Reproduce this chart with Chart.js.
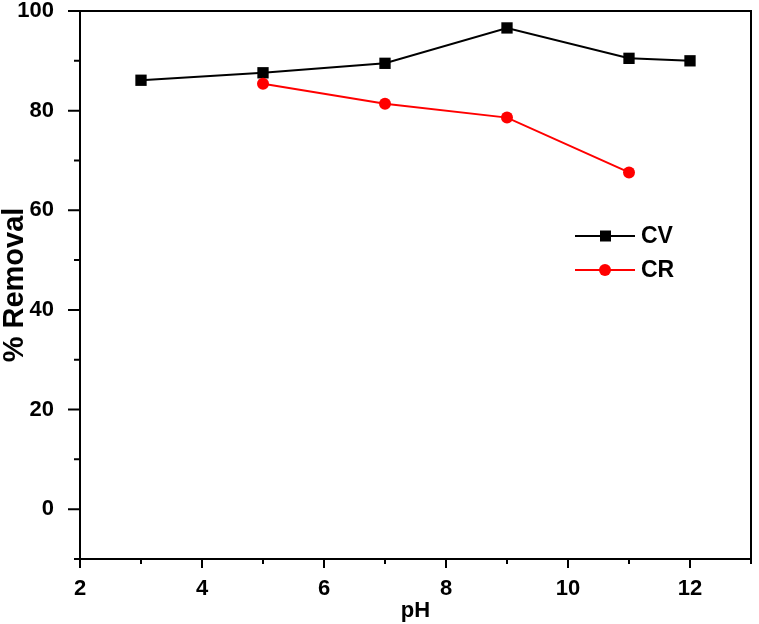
<!DOCTYPE html>
<html>
<head>
<meta charset="utf-8">
<script src="https://cdn.jsdelivr.net/npm/chart.js@4/dist/chart.umd.min.js"></script>
<style>
  html, body { margin: 0; padding: 0; background: #fff; }
  #wrap { width: 759px; height: 624px; }
</style>
</head>
<body>
<div id="wrap"><canvas id="phChart" width="759" height="624"></canvas></div>
<script>
const phCV = [3, 5, 7, 9, 11, 12];
const cvRemoval = [86.1, 87.6, 89.5, 96.6, 90.5, 90.0];
const phCR = [5, 7, 9, 11];
const crRemoval = [85.4, 81.4, 78.6, 67.6];
const xMajor = [2, 4, 6, 8, 10, 12];
const yMajor = [0, 20, 40, 60, 80, 100];

const FONT = "'Liberation Sans', Arial, sans-serif";

// frame, tick marks and the in-plot legend
const framePlugin = {
  id: 'frame',
  afterDraw(chart) {
    const ctx = chart.ctx;
    const a = chart.chartArea;
    const xs = chart.scales.x, ys = chart.scales.y;
    ctx.save();
    ctx.strokeStyle = '#000';
    ctx.lineWidth = 2;
    ctx.strokeRect(a.left, a.top, a.right - a.left, a.bottom - a.top);
    ctx.beginPath();
    for (let v = xs.min; v <= xs.max; v++) {
      const px = xs.getPixelForValue(v);
      const len = xMajor.includes(v) ? 9 : 5;
      ctx.moveTo(px, a.bottom);
      ctx.lineTo(px, a.bottom + len);
    }
    for (let v = ys.min; v <= ys.max; v += 10) {
      const py = ys.getPixelForValue(v);
      const len = yMajor.includes(v) ? 12 : 6;
      ctx.moveTo(a.left, py);
      ctx.lineTo(a.left - len, py);
    }
    ctx.stroke();

    // legend
    chart.data.datasets.forEach((ds, i) => {
      const y = 236 + i * 34;
      ctx.strokeStyle = ds.borderColor;
      ctx.lineWidth = 2;
      ctx.beginPath();
      ctx.moveTo(575, y);
      ctx.lineTo(635, y);
      ctx.stroke();
      ctx.fillStyle = ds.pointBackgroundColor;
      if (ds.pointStyle === 'rect') {
        ctx.fillRect(600, y - 5.5, 11, 11);
      } else {
        ctx.beginPath();
        ctx.arc(605, y, 6, 0, Math.PI * 2);
        ctx.fill();
      }
      ctx.fillStyle = '#000';
      ctx.font = 'bold 23px ' + FONT;
      ctx.textBaseline = 'middle';
      ctx.fillText(ds.label, 641, y + 1);
    });
    ctx.restore();
  }
};

const phChart = new Chart(document.getElementById('phChart'), {
  type: 'line',
  data: {
    datasets: [{
      label: 'CV',
      data: phCV.map((x, i) => ({ x: x, y: cvRemoval[i] })),
      borderColor: '#000',
      backgroundColor: '#000',
      pointBackgroundColor: '#000',
      pointBorderColor: '#000',
      pointStyle: 'rect',
      pointRadius: 8,
      pointBorderWidth: 0,
      borderWidth: 2,
      order: 1
    }, {
      label: 'CR',
      data: phCR.map((x, i) => ({ x: x, y: crRemoval[i] })),
      borderColor: '#ff0000',
      backgroundColor: '#ff0000',
      pointBackgroundColor: '#ff0000',
      pointBorderColor: '#ff0000',
      pointStyle: 'circle',
      pointRadius: 6,
      pointBorderWidth: 0,
      borderWidth: 2,
      order: 0
    }]
  },
  options: {
    responsive: false,
    animation: false,
    layout: { padding: { top: 11, right: 3, left: 0, bottom: 0 } },
    plugins: {
      legend: { display: false },
      tooltip: { enabled: false }
    },
    scales: {
      x: {
        type: 'linear',
        min: 2,
        max: 13,
        grid: { display: false },
        border: { display: false },
        ticks: {
          stepSize: 1,
          autoSkip: false,
          maxRotation: 0,
          padding: 9,
          color: '#000',
          font: { family: FONT, size: 22, weight: 'bold' },
          callback: v => xMajor.includes(v) ? String(v) : ''
        },
        title: {
          display: true,
          text: 'pH',
          color: '#000',
          font: { family: FONT, size: 22, weight: 'bold', lineHeight: 1 },
          padding: { top: 0, bottom: 2 }
        },
        afterFit: s => { s.height = 65; s.paddingLeft = 0; s.paddingRight = 0; }
      },
      y: {
        min: -10,
        max: 100,
        grid: { display: false },
        border: { display: false },
        ticks: {
          stepSize: 10,
          autoSkip: false,
          padding: 18,
          color: '#000',
          font: { family: FONT, size: 22, weight: 'bold' },
          callback: v => yMajor.includes(v) ? String(v) : ''
        },
        title: {
          display: true,
          text: '% Removal',
          color: '#000',
          font: { family: FONT, size: 29, weight: 'bold', lineHeight: 1 },
          padding: { top: 0, bottom: 0 }
        },
        afterFit: s => { s.width = 80; s.paddingTop = 0; s.paddingBottom = 0; }
      }
    }
  },
  plugins: [framePlugin]
});
</script>
</body>
</html>
